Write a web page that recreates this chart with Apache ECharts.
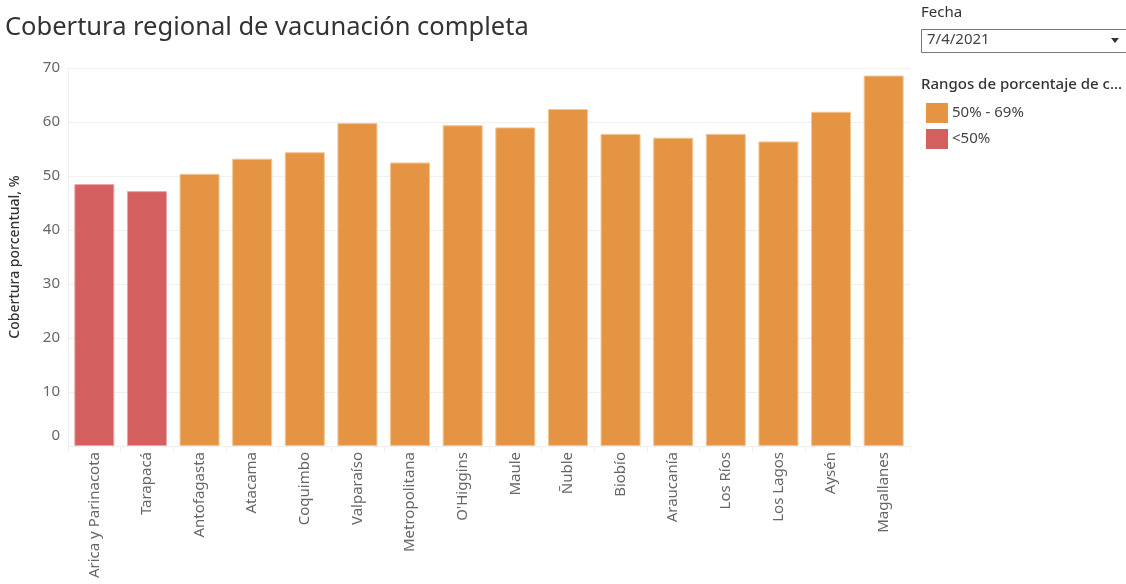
<!DOCTYPE html>
<html><head><meta charset="utf-8">
<script src="https://cdn.jsdelivr.net/npm/echarts@6/dist/echarts.min.js"></script>
<style>html,body{margin:0;padding:0;background:#fff;}#c{width:1126px;height:584px;}</style>
</head><body><div id="c"></div>
<script>
const regions = ['Arica y Parinacota','Tarapacá','Antofagasta','Atacama','Coquimbo','Valparaíso','Metropolitana',"O'Higgins",'Maule','Ñuble','Biobío','Araucanía','Los Ríos','Los Lagos','Aysén','Magallanes'];
const coverage = [48.5,47.2,50.4,53.2,54.4,59.8,52.5,59.4,59.0,62.4,57.8,57.1,57.8,56.4,61.9,68.6];
const yTicks = [0,10,20,30,40,50,60,70];
const rangeLabels = ['50% - 69%','<50%'];
const threshold = 50;

const hi = coverage.map(v => v >= threshold ? v : '-');
const lo = coverage.map(v => v < threshold ? v : '-');
const FONT = '"Noto Sans", "Open Sans", sans-serif';

const chart = echarts.init(document.getElementById('c'), null, {renderer:'canvas'});
chart.setOption({
  animation:false,
  textStyle:{fontFamily:FONT},
  title:{text:'Cobertura regional de vacunación completa', left:0, top:10,
    textStyle:{fontFamily:FONT, fontSize:25.5, fontWeight:'normal', color:'#333'}},
  grid:{left:67, right:216, top:68, bottom:138},
  legend:{
    orient:'vertical', left:921, top:98, itemWidth:22, itemHeight:20, itemGap:6,
    icon:'rect', data:rangeLabels, itemStyle:{borderWidth:0},
    textStyle:{fontFamily:FONT, fontSize:15, color:'#444', padding:[0,0,0,-1]}
  },
  xAxis:{type:'category', data:regions,
    axisLine:{show:true, lineStyle:{color:'#eeeeee'}},
    axisTick:{show:true, length:6, lineStyle:{color:'#eeeeee'}},
    splitLine:{show:false},
    axisLabel:{rotate:90, interval:0, margin:6, fontSize:15, color:'#666', fontFamily:FONT}
  },
  yAxis:{type:'value', min:0, max:yTicks[yTicks.length-1], interval:yTicks[1]-yTicks[0],
    name:'Cobertura porcentual, %', nameLocation:'middle', nameGap:46,
    nameTextStyle:{fontSize:14, color:'#333', fontFamily:FONT, fontWeight:500},
    axisLine:{show:true, lineStyle:{color:'#f0f0f0'}},
    axisTick:{show:false},
    splitLine:{lineStyle:{color:'#f0f0f0'}},
    axisLabel:{fontSize:15, color:'#666', margin:8, fontFamily:FONT,
      formatter: v => v === 0 ? '{z|0}' : String(v),
      rich:{z:{fontSize:15, color:'#666', fontFamily:FONT, padding:[0,0,20,0]}}}
  },
  series:[
    {name:rangeLabels[0], type:'bar', stack:'s', data:hi, barCategoryGap:'24%',
      itemStyle:{color:'#E59444', borderColor:'#F2C592', borderWidth:1}},
    {name:rangeLabels[1], type:'bar', stack:'s', data:lo, barCategoryGap:'24%',
      itemStyle:{color:'#D35F5F', borderColor:'#EBA6A6', borderWidth:1}}
  ],
  graphic:[
    {type:'text', left:921, top:5, style:{text:'Fecha', fontFamily:FONT, fontSize:15, fill:'#333'}},
    {type:'rect', shape:{x:921.5, y:29.5, width:210, height:23}, style:{fill:'#fff', stroke:'#777', lineWidth:1}},
    {type:'text', left:927, top:32, style:{text:'7/4/2021', fontFamily:FONT, fontSize:15, fill:'#444'}},
    {type:'polygon', shape:{points:[[1111,38],[1119,38],[1115,43]]}, style:{fill:'#333'}},
    {type:'text', left:921, top:77, style:{text:'Rangos de porcentaje de c...', fontFamily:FONT, fontSize:15, fontWeight:500, fill:'#333'}}
  ]
});
</script></body></html>
